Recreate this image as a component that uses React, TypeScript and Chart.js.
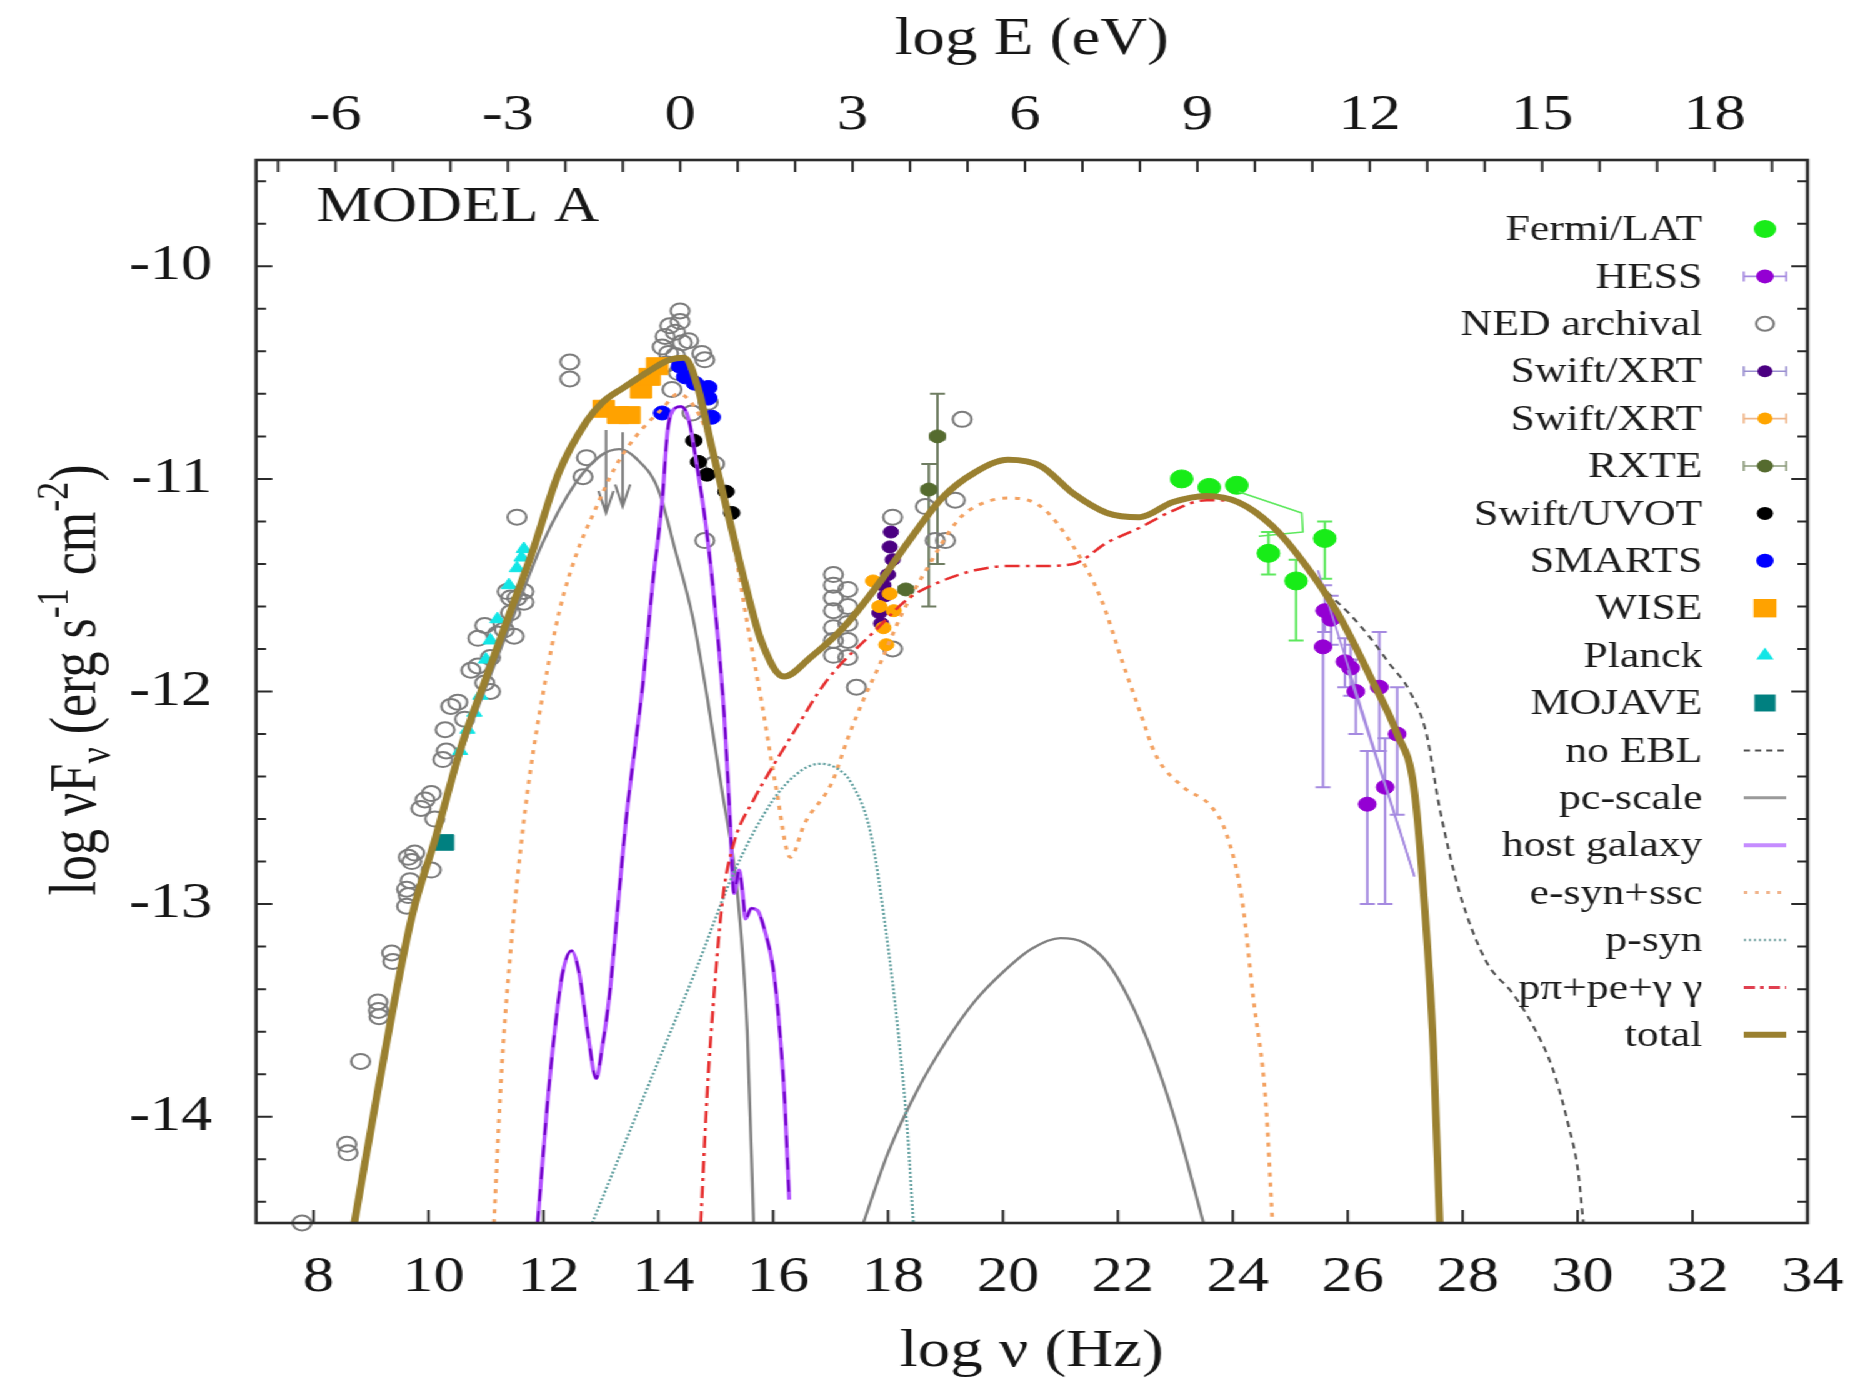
import React, { useEffect, useRef } from 'react';
import { Chart, registerables } from 'chart.js';

Chart.register(...registerables);

type P = [number, number];

// ---------------- axes ----------------
const X_TICKS = [8, 10, 12, 14, 16, 18, 20, 22, 24, 26, 28, 30, 32, 34];
const E_TICKS = [-6, -3, 0, 3, 6, 9, 12, 15, 18];
const Y_TICKS = [-14, -13, -12, -11, -10];
const X_MIN = 7;
const X_MAX = 34;
const Y_MIN = -14.5;
const Y_MAX = -9.5;
const LOG_HZ_PER_EV = 14.383;

// ---------------- model curves (log nu, log nuFnu) ----------------
const TOTAL: P[] = [
  [8.71, -14.5], [9.13, -13.86], [9.71, -13.06], [10.11, -12.7], [10.57, -12.26], [10.97, -11.96],
  [11.43, -11.62], [11.8, -11.35], [12.27, -10.97], [12.75, -10.73], [13.03, -10.64], [13.4, -10.57],
  [13.8, -10.5], [14.2, -10.44], [14.45, -10.43], [14.7, -10.58], [14.93, -10.85], [15.21, -11.16],
  [15.5, -11.48], [15.79, -11.76], [16.19, -11.93], [16.65, -11.84], [17.22, -11.7], [17.79, -11.51],
  [18.37, -11.29], [18.94, -11.09], [19.51, -10.97], [20.09, -10.91], [20.66, -10.94], [21.23, -11.07],
  [21.81, -11.16], [22.38, -11.18], [22.95, -11.11], [23.54, -11.08], [24.1, -11.11], [24.68, -11.22],
  [25.25, -11.4], [25.82, -11.63], [26.39, -11.93], [26.86, -12.2], [27.15, -12.45], [27.32, -12.95],
  [27.49, -13.68], [27.6, -14.5],
];
const PC_SCALE_LOW: P[] = [
  [8.71, -14.5], [9.13, -13.87], [9.71, -13.08], [10.11, -12.72], [10.57, -12.29], [10.97, -12.0],
  [11.43, -11.68], [11.99, -11.3], [12.56, -11.02], [13.0, -10.89], [13.32, -10.86], [13.6, -10.9],
  [14.0, -11.05], [14.29, -11.33], [14.6, -11.65], [14.86, -12.04], [15.1, -12.45], [15.39, -12.98],
  [15.55, -13.6], [15.66, -14.5],
];
const PC_SCALE_HIGH: P[] = [
  [17.57, -14.5], [18.0, -14.17], [18.5, -13.88], [19.0, -13.65], [19.5, -13.46], [20.0, -13.32],
  [20.5, -13.21], [21.0, -13.16], [21.4, -13.18], [21.8, -13.27], [22.2, -13.45], [22.6, -13.7],
  [23.0, -14.02], [23.49, -14.5],
];
const HOST_GALAXY: P[] = [
  [11.9, -14.5], [12.05, -14.0], [12.18, -13.64], [12.33, -13.33], [12.49, -13.22], [12.62, -13.32],
  [12.78, -13.62], [12.92, -13.82], [13.02, -13.68], [13.15, -13.43], [13.3, -13.0], [13.44, -12.6],
  [13.6, -12.25], [13.73, -11.97], [13.9, -11.5], [14.07, -11.1], [14.16, -10.78], [14.25, -10.68],
  [14.4, -10.66], [14.53, -10.72], [14.68, -10.95], [14.81, -11.18], [14.93, -11.45], [15.05, -11.78],
  [15.15, -12.12], [15.25, -12.6], [15.32, -12.95], [15.41, -12.84], [15.47, -12.95], [15.52, -13.07],
  [15.62, -13.02], [15.73, -13.03], [15.85, -13.12], [16.0, -13.3], [16.1, -13.55], [16.2, -13.92],
  [16.28, -14.39],
];
const E_SYN_SSC: P[] = [
  [11.14, -14.5], [11.28, -13.75], [11.43, -13.22], [11.6, -12.75], [11.77, -12.38], [12.0, -12.0],
  [12.28, -11.62], [12.58, -11.35], [12.86, -11.17], [13.26, -10.94], [13.61, -10.8], [14.07, -10.67],
  [14.35, -10.6], [14.6, -10.65], [14.87, -10.8], [15.1, -11.05], [15.33, -11.33], [15.55, -11.68],
  [15.8, -12.05], [16.05, -12.45], [16.3, -12.78], [16.55, -12.62], [17.02, -12.43], [17.3, -12.22],
  [17.57, -12.04], [17.86, -11.87], [18.25, -11.63], [18.66, -11.43], [19.23, -11.19], [19.6, -11.12],
  [20.09, -11.09], [20.66, -11.13], [21.23, -11.32], [21.7, -11.56], [22.09, -11.87], [22.39, -12.1],
  [22.66, -12.3], [23.14, -12.45], [23.62, -12.54], [23.89, -12.67], [24.16, -12.98], [24.36, -13.45],
  [24.57, -13.92], [24.69, -14.5],
];
const P_SYN: P[] = [
  [12.85, -14.5], [13.5, -14.07], [14.0, -13.74], [14.64, -13.32], [15.32, -12.85], [16.0, -12.51],
  [16.5, -12.37], [16.82, -12.34], [17.1, -12.36], [17.36, -12.43], [17.7, -12.67], [17.97, -13.14],
  [18.18, -13.61], [18.34, -14.08], [18.44, -14.5],
];
const P_PION: P[] = [
  [14.74, -14.5], [14.85, -13.9], [14.92, -13.61], [15.12, -12.98], [15.32, -12.71], [15.66, -12.51],
  [16.0, -12.35], [16.34, -12.2], [16.93, -11.95], [17.79, -11.71], [18.37, -11.56], [18.94, -11.48],
  [19.51, -11.43], [20.09, -11.41], [20.66, -11.41], [21.23, -11.4], [21.81, -11.3], [22.38, -11.23],
  [22.95, -11.15], [23.54, -11.1], [24.1, -11.11], [24.68, -11.22], [25.25, -11.4], [25.82, -11.63],
  [26.39, -11.93], [26.86, -12.2], [27.15, -12.45], [27.32, -12.95], [27.49, -13.68], [27.6, -14.5],
];
const NO_EBL: P[] = [
  [25.25, -11.4], [25.6, -11.52], [26.05, -11.64], [26.4, -11.75], [26.7, -11.86], [27.08, -12.0],
  [27.37, -12.2], [27.6, -12.55], [27.94, -12.94], [28.41, -13.27], [28.87, -13.42], [29.22, -13.57],
  [29.56, -13.77], [29.84, -14.04], [30.01, -14.26], [30.1, -14.5],
];
const FERMI_BOWTIE: P[] = [[24.1, -11.06], [25.2, -11.16], [25.22, -11.25], [24.45, -11.27]];
const HESS_BOWTIE_A: P[] = [[25.48, -11.43], [27.16, -12.87]];
const HESS_BOWTIE_B: P[] = [[26.0, -11.9], [27.16, -12.87]];

// ---------------- data points ----------------
const FERMI: P[] = [[23.11, -11.0], [23.59, -11.04], [24.07, -11.03], [24.62, -11.35], [25.1, -11.48], [25.6, -11.28]];
const FERMI_YERR = [null, null, null, [-11.25, -11.45], [-11.38, -11.76], [-11.2, -11.47]];
const HESS: P[] = [
  [25.6, -11.62], [25.71, -11.66], [25.57, -11.79], [25.95, -11.86], [26.05, -11.89], [26.14, -12.0],
  [26.55, -11.98], [26.86, -12.2], [26.65, -12.45], [26.34, -12.53],
];
const HESS_YERR = [
  [-11.5, -11.72], [-11.55, -11.78], [-11.62, -12.45], [-11.75, -11.98], [-11.78, -12.02], [-11.85, -12.2],
  [-11.72, -12.28], [-11.98, -12.58], [-12.22, -13.0], [-12.28, -13.0],
];
const NED: P[] = [
  [7.8, -14.5], [8.58, -14.13], [8.6, -14.17], [8.82, -13.74], [9.12, -13.46], [9.13, -13.5], [9.14, -13.53],
  [9.36, -13.23], [9.38, -13.27], [9.62, -13.01], [9.65, -12.96], [9.62, -12.93], [9.68, -12.89], [9.71, -12.8],
  [9.65, -12.78], [9.76, -12.76], [9.87, -12.55], [9.94, -12.51], [10.05, -12.48], [10.11, -12.6], [10.05, -12.84],
  [10.25, -12.32], [10.31, -12.28], [10.29, -12.18], [10.39, -12.07], [10.51, -12.05], [10.63, -12.13],
  [10.74, -11.9], [10.86, -11.88], [10.98, -11.96], [11.08, -12.0], [10.86, -11.75], [10.98, -11.69],
  [11.08, -11.84], [11.2, -11.73], [11.43, -11.63], [11.54, -11.56], [11.37, -11.53], [11.66, -11.53],
  [11.43, -11.56], [11.66, -11.58], [11.32, -11.71], [11.49, -11.74], [11.54, -11.18],
  [12.46, -10.45], [12.46, -10.53], [12.69, -10.99], [12.75, -10.9],
  [14.38, -10.21], [14.38, -10.26], [14.3, -10.31], [14.12, -10.33], [14.07, -10.38], [14.18, -10.41],
  [14.42, -10.36], [14.53, -10.35], [14.76, -10.41], [14.81, -10.44], [14.24, -10.58], [14.59, -10.69],
  [14.87, -10.64], [14.98, -10.93], [14.81, -11.29], [14.2, -10.28], [14.3, -10.42], [14.15, -10.46], [14.35, -10.5],
  [17.05, -11.45], [17.05, -11.5], [17.05, -11.56], [17.05, -11.62], [17.05, -11.7], [17.05, -11.76],
  [17.05, -11.83], [17.3, -11.52], [17.3, -11.6], [17.3, -11.68], [17.3, -11.76], [17.3, -11.84],
  [17.45, -11.98], [18.08, -11.18], [18.08, -11.8], [18.65, -11.13], [19.17, -11.1], [18.82, -11.29],
  [19.0, -11.29], [19.29, -10.72],
];
const NED_UPPER_LIMITS: P[] = [[13.09, -10.77], [13.38, -10.78]];
const NED_UPPER_LIMIT_TIPS = [-11.16, -11.13];
const SWIFT_XRT_A: P[] = [
  [17.85, -11.63], [17.88, -11.68], [17.95, -11.55], [18.0, -11.45], [18.03, -11.32], [18.05, -11.25],
  [18.08, -11.38], [17.92, -11.5],
];
const SWIFT_XRT_B: P[] = [[17.74, -11.48], [17.85, -11.6], [17.92, -11.7], [18.03, -11.54], [17.97, -11.78], [18.1, -11.62]];
const RXTE: P[] = [[18.86, -10.8], [18.71, -11.05], [18.31, -11.52]];
const RXTE_YERR = [[-10.6, -11.4], [-10.93, -11.6], null];
const SWIFT_UVOT: P[] = [[14.62, -10.82], [14.7, -10.92], [14.85, -10.98], [15.18, -11.06], [15.28, -11.16]];
const SMARTS: P[] = [[14.38, -10.47], [14.47, -10.52], [14.64, -10.55], [14.87, -10.57], [14.87, -10.62], [14.93, -10.71], [14.07, -10.69]];
const WISE: P[] = [[13.05, -10.67], [13.3, -10.7], [13.5, -10.7], [13.7, -10.58], [13.85, -10.52], [13.98, -10.47]];
const PLANCK: P[] = [
  [10.55, -12.28], [10.68, -12.18], [10.8, -12.1], [10.9, -12.02], [11.0, -11.85], [11.08, -11.76],
  [11.2, -11.66], [11.4, -11.5], [11.54, -11.42], [11.62, -11.37], [11.66, -11.33],
];
const MOJAVE: P[] = [[10.27, -12.71]];

const LEGEND_LABELS = [
  'Fermi/LAT', 'HESS', 'NED archival', 'Swift/XRT', 'Swift/XRT', 'RXTE', 'Swift/UVOT', 'SMARTS', 'WISE',
  'Planck', 'MOJAVE', 'no EBL', 'pc-scale', 'host galaxy', 'e-syn+ssc', 'p-syn', 'pπ+pe+γ γ', 'total',
];

// ---------------- layout / style ----------------
const SX = 1.25; // horizontal stretch of the reference figure
const CW = 1496;
const CH = 1379;
const PLOT_LEFT = 204.8;
const PLOT_RIGHT = 1460;
const PLOT_TOP = 160;
const PLOT_BOTTOM = 1223;
const FONT = "'Liberation Serif', 'Times New Roman', 'DejaVu Serif', serif";
const INK = '#161616';

const C = {
  fermi: '#18ec18', hess: '#9400d3', hessBar: '#a58ae0', ned: '#7c7c7c', xrtA: '#4b0082', xrtB: '#ffa500',
  rxte: '#556b2f', uvot: '#000000', smarts: '#0000ff', wise: '#ffa200', planck: '#12e6e6', mojave: '#008080',
  noebl: '#4f4f4f', pc: '#808080', host: '#b352ff', hostDark: '#6f00c6', esyn: '#f3a262', psyn: '#5f9e9e',
  ppi: '#e62e2e', total: '#9a8030',
};

const LEGEND_STYLE: any[] = [
  { m: 'circle', r: 9, fill: C.fermi },
  { m: 'circle', r: 7, fill: C.hess, bar: C.hessBar },
  { m: 'circle', r: 7, stroke: C.ned },
  { m: 'circle', r: 6, fill: C.xrtA, bar: '#9a8fd0' },
  { m: 'circle', r: 6, fill: C.xrtB, bar: '#efb68a' },
  { m: 'circle', r: 6.5, fill: C.rxte, bar: '#8b9a7b' },
  { m: 'circle', r: 6.5, fill: C.uvot },
  { m: 'circle', r: 7, fill: C.smarts },
  { m: 'rect', r: 13, fill: C.wise },
  { m: 'triangle', r: 8, fill: C.planck },
  { m: 'rect', r: 12, fill: C.mojave },
  { line: C.noebl, w: 2, dash: [5, 4] },
  { line: '#9a9a9a', w: 3 },
  { line: '#c58cff', w: 4 },
  { line: '#f0b48c', w: 3, dash: [3, 6] },
  { line: '#8fb5b5', w: 2.5, dash: [2, 2] },
  { line: '#e04050', w: 3, dash: [9, 4, 3, 4] },
  { line: C.total, w: 6 },
];

const pts = (a: P[]) => a.map(([x, y]) => ({ x, y }));

function curve(data: P[], color: string, width: number, dash: number[] = []) {
  return {
    data: pts(data), showLine: true, borderColor: color, borderWidth: width, borderDash: dash,
    pointRadius: 0, pointHoverRadius: 0, fill: false, cubicInterpolationMode: 'monotone',
    xAxisID: 'x', yAxisID: 'y', clip: 0, borderCapStyle: 'butt', borderJoinStyle: 'round',
  };
}
function polyline(data: P[], color: string, width: number) {
  return { ...curve(data, color, width), cubicInterpolationMode: 'default', tension: 0 };
}
function markers(data: P[], style: string, radius: number, fill: string, stroke: string, strokeW: number, extra: any = {}) {
  return {
    data: pts(data), showLine: false, pointStyle: style, pointRadius: radius, pointHoverRadius: radius,
    pointBackgroundColor: fill, pointBorderColor: stroke, pointBorderWidth: strokeW,
    xAxisID: 'x', yAxisID: 'y', clip: 12, ...extra,
  };
}

function drawShape(ctx: CanvasRenderingContext2D, m: string, x: number, y: number, r: number) {
  ctx.beginPath();
  if (m === 'rect') {
    const s = r * Math.SQRT1_2;
    ctx.rect(x - s, y - s, 2 * s, 2 * s);
  } else if (m === 'triangle') {
    const h = r * 1.5;
    ctx.moveTo(x, y - r);
    ctx.lineTo(x + h / Math.sqrt(3), y + r / 2);
    ctx.lineTo(x - h / Math.sqrt(3), y + r / 2);
    ctx.closePath();
  } else {
    ctx.arc(x, y, r, 0, Math.PI * 2);
  }
}

const errorBarPlugin = {
  id: 'errorBars',
  beforeDatasetsDraw(chart: any) {
    const { ctx, chartArea: a } = chart;
    const xs = chart.scales.x;
    const ys = chart.scales.y;
    ctx.save();
    ctx.beginPath();
    ctx.rect(a.left, a.top, a.right - a.left, a.bottom - a.top);
    ctx.clip();
    chart.data.datasets.forEach((ds: any) => {
      if (!ds.errY && !ds.errXHalf && !ds.arrowTo) return;
      ctx.strokeStyle = ds.errColor;
      ctx.lineWidth = ds.errWidth || 1.6;
      ds.data.forEach((p: any, i: number) => {
        const px = xs.getPixelForValue(p.x);
        const py = ys.getPixelForValue(p.y);
        const cap = 6;
        const ey = ds.errY && ds.errY[i];
        if (ey) {
          const y1 = ys.getPixelForValue(ey[0]);
          const y2 = ys.getPixelForValue(ey[1]);
          ctx.beginPath();
          ctx.moveTo(px, y1); ctx.lineTo(px, y2);
          ctx.moveTo(px - cap, y1); ctx.lineTo(px + cap, y1);
          ctx.moveTo(px - cap, y2); ctx.lineTo(px + cap, y2);
          ctx.stroke();
        }
        if (ds.errXHalf) {
          const x1 = xs.getPixelForValue(p.x - ds.errXHalf);
          const x2 = xs.getPixelForValue(p.x + ds.errXHalf);
          ctx.beginPath();
          ctx.moveTo(x1, py); ctx.lineTo(x2, py);
          ctx.moveTo(x1, py - 4); ctx.lineTo(x1, py + 4);
          ctx.moveTo(x2, py - 4); ctx.lineTo(x2, py + 4);
          ctx.stroke();
        }
        const tip = ds.arrowTo && ds.arrowTo[i];
        if (tip != null) {
          const yt = ys.getPixelForValue(tip);
          ctx.beginPath();
          ctx.moveTo(px, py); ctx.lineTo(px, yt);
          ctx.moveTo(px - 6, yt - 22); ctx.lineTo(px, yt); ctx.lineTo(px + 6, yt - 22);
          ctx.stroke();
        }
      });
    });
    ctx.restore();
  },
};

const framePlugin = {
  id: 'frameTicks',
  afterDatasetsDraw(chart: any) {
    const { ctx, chartArea: a, scales } = chart;
    const ys = scales.y;
    const xs = scales.x;
    const es = scales.x2;
    ctx.save();
    ctx.strokeStyle = '#2b2b2b';
    ctx.lineWidth = 2;
    ctx.beginPath();
    for (let k = -72; k <= -48; k++) {
      const v = k / 5;
      if (v <= Y_MIN || v >= Y_MAX) continue;
      const y = ys.getPixelForValue(v);
      const len = k % 5 === 0 ? 13 : 8;
      ctx.moveTo(a.left, y); ctx.lineTo(a.left + len, y);
      ctx.moveTo(a.right, y); ctx.lineTo(a.right - len, y);
    }
    X_TICKS.forEach((v) => {
      if (v <= X_MIN || v >= X_MAX) return;
      const x = xs.getPixelForValue(v);
      ctx.moveTo(x, a.bottom); ctx.lineTo(x, a.bottom - 13);
    });
    for (let e = Math.ceil(es.min); e <= Math.floor(es.max); e++) {
      const x = es.getPixelForValue(e);
      ctx.moveTo(x, a.top); ctx.lineTo(x, a.top + 12);
    }
    ctx.stroke();
    ctx.lineWidth = 2.6;
    ctx.strokeRect(a.left, a.top, a.right - a.left, a.bottom - a.top);
    ctx.restore();
  },
};

const annotationPlugin = {
  id: 'annotations',
  afterDraw(chart: any) {
    const { ctx } = chart;
    ctx.save();
    ctx.fillStyle = INK;
    // model label
    ctx.font = `50px ${FONT}`;
    ctx.textAlign = 'left';
    ctx.textBaseline = 'middle';
    ctx.fillText('MODEL A', 253, 208);

    // y-axis title with sub/superscripts
    const big = 52;
    const small = 36;
    const parts: [string, number, number][] = [
      ['log νF', big, 0], ['ν', small, 12], [' (erg s', big, 0], ['-1', small, -22],
      [' cm', big, 0], ['-2', small, -22], [')', big, 0],
    ];
    let total = 0;
    parts.forEach(([t, s]) => { ctx.font = `${s}px ${FONT}`; total += ctx.measureText(t).width; });
    ctx.translate(58, 680);
    ctx.rotate(-Math.PI / 2);
    let cx = -total / 2;
    ctx.textAlign = 'left';
    ctx.textBaseline = 'alphabetic';
    parts.forEach(([t, s, dy]) => {
      ctx.font = `${s}px ${FONT}`;
      ctx.fillText(t, cx, 18 + dy);
      cx += ctx.measureText(t).width;
    });
    ctx.restore();

    // legend
    ctx.save();
    const textRight = 1362;
    const markX = 1412;
    const y0 = 229;
    const dy = 47.4;
    LEGEND_LABELS.forEach((label, i) => {
      const y = y0 + dy * i;
      ctx.font = `35px ${FONT}`;
      ctx.fillStyle = '#1c1c1c';
      ctx.textAlign = 'right';
      ctx.textBaseline = 'middle';
      ctx.fillText(label, textRight, y + 2);
      const st = LEGEND_STYLE[i];
      if (st.line) {
        ctx.beginPath();
        ctx.setLineDash(st.dash || []);
        ctx.strokeStyle = st.line;
        ctx.lineWidth = st.w;
        ctx.moveTo(markX - 17, y); ctx.lineTo(markX + 17, y);
        ctx.stroke();
        ctx.setLineDash([]);
      } else {
        if (st.bar) {
          ctx.strokeStyle = st.bar;
          ctx.lineWidth = 1.6;
          ctx.beginPath();
          ctx.moveTo(markX - 17, y); ctx.lineTo(markX + 17, y);
          ctx.moveTo(markX - 17, y - 5); ctx.lineTo(markX - 17, y + 5);
          ctx.moveTo(markX + 17, y - 5); ctx.lineTo(markX + 17, y + 5);
          ctx.stroke();
        }
        drawShape(ctx, st.m, markX, y, st.r);
        if (st.fill) { ctx.fillStyle = st.fill; ctx.fill(); }
        if (st.stroke) { ctx.strokeStyle = st.stroke; ctx.lineWidth = 2; ctx.stroke(); }
      }
    });
    ctx.restore();
  },
};

const tickFont = { family: FONT, size: 50 };

export default function App() {
  const ref = useRef<HTMLCanvasElement>(null);

  useEffect(() => {
    document.body.style.margin = '0';
    const canvas = ref.current;
    if (!canvas) return;

    const datasets: any[] = [
      curve(TOTAL, C.total, 6),
      curve(P_PION, C.ppi, 2.5, [12, 5, 3, 5]),
      curve(P_SYN, C.psyn, 2.2, [2, 2]),
      curve(E_SYN_SSC, C.esyn, 3, [4, 6]),
      curve(HOST_GALAXY, C.hostDark, 2, [12, 10]),
      curve(HOST_GALAXY, C.host, 3.2),
      curve(PC_SCALE_HIGH, C.pc, 2.4),
      curve(PC_SCALE_LOW, C.pc, 2.4),
      curve(NO_EBL, C.noebl, 2, [6, 5]),
      markers(MOJAVE, 'rect', 11, C.mojave, C.mojave, 1),
      markers(PLANCK, 'triangle', 7, C.planck, C.planck, 1),
      markers(WISE, 'rect', 12, C.wise, C.wise, 1),
      markers(SMARTS, 'circle', 7, C.smarts, C.smarts, 1),
      markers(SWIFT_UVOT, 'circle', 6.5, C.uvot, C.uvot, 1),
      markers(RXTE, 'circle', 6.5, C.rxte, C.rxte, 1, { errY: RXTE_YERR, errXHalf: 0.12, errColor: '#6f7d62', errWidth: 2 }),
      markers(SWIFT_XRT_B, 'circle', 6, C.xrtB, C.xrtB, 1),
      markers(SWIFT_XRT_A, 'circle', 6, C.xrtA, C.xrtA, 1),
      markers(NED_UPPER_LIMITS, 'circle', 0, C.ned, C.ned, 0, { arrowTo: NED_UPPER_LIMIT_TIPS, errColor: '#7a7a7a', errWidth: 2 }),
      markers(NED, 'circle', 7.5, 'rgba(0,0,0,0)', C.ned, 2),
      polyline(HESS_BOWTIE_A, C.hessBar, 1.6),
      polyline(HESS_BOWTIE_B, C.hessBar, 1.6),
      markers(HESS, 'circle', 7, C.hess, C.hess, 1, { errY: HESS_YERR, errXHalf: 0.08, errColor: C.hessBar, errWidth: 2 }),
      polyline(FERMI_BOWTIE, '#5de85d', 1.6),
      markers(FERMI, 'circle', 9, C.fermi, C.fermi, 1, { errY: FERMI_YERR, errXHalf: 0.16, errColor: '#5de85d', errWidth: 2 }),
    ];

    const chart = new Chart(canvas, {
      type: 'scatter',
      data: { datasets },
      options: {
        responsive: false,
        animation: false,
        devicePixelRatio: 1,
        events: [],
        layout: { padding: { left: 0, right: CW - PLOT_RIGHT, top: 0, bottom: 0 } },
        plugins: { legend: { display: false }, tooltip: { enabled: false } },
        scales: {
          x: {
            type: 'linear', position: 'bottom', min: X_MIN, max: X_MAX,
            grid: { display: false, drawTicks: false }, border: { display: false },
            afterBuildTicks: (s: any) => { s.ticks = X_TICKS.map((v) => ({ value: v })); },
            afterFit: (s: any) => { s.height = CH - PLOT_BOTTOM; },
            ticks: { autoSkip: false, maxRotation: 0, padding: 25, labelOffset: 4, font: tickFont, color: INK, callback: (v: any) => String(v) },
            title: { display: true, text: 'log ν (Hz)', font: { family: FONT, size: 52 }, color: INK, padding: { top: 0, bottom: -5 } },
          },
          x2: {
            type: 'linear', position: 'top', min: X_MIN - LOG_HZ_PER_EV, max: X_MAX - LOG_HZ_PER_EV,
            grid: { display: false, drawTicks: false }, border: { display: false },
            afterBuildTicks: (s: any) => { s.ticks = E_TICKS.map((v) => ({ value: v })); },
            afterFit: (s: any) => { s.height = PLOT_TOP; },
            ticks: { autoSkip: false, maxRotation: 0, padding: 14, font: tickFont, color: INK, callback: (v: any) => String(v) },
            title: { display: true, text: 'log E (eV)', font: { family: FONT, size: 52 }, color: INK, padding: { top: 9, bottom: 0 } },
          },
          y: {
            type: 'linear', position: 'left', min: Y_MIN, max: Y_MAX,
            grid: { display: false, drawTicks: false }, border: { display: false },
            afterBuildTicks: (s: any) => { s.ticks = Y_TICKS.map((v) => ({ value: v })); },
            afterFit: (s: any) => { s.width = PLOT_LEFT; },
            ticks: { autoSkip: false, padding: 35, font: tickFont, color: INK, callback: (v: any) => String(v) },
          },
        },
      } as any,
      plugins: [errorBarPlugin, framePlugin, annotationPlugin],
    } as any);

    return () => chart.destroy();
  }, []);

  return (
    <div
      style={{
        position: 'absolute', left: 0, top: 0, width: CW, height: CH,
        transform: `scaleX(${SX})`, transformOrigin: '0 0', background: '#ffffff', overflow: 'hidden',
      }}
    >
      <canvas ref={ref} width={CW} height={CH} style={{ width: `${CW}px`, height: `${CH}px`, display: 'block' }} />
    </div>
  );
}
